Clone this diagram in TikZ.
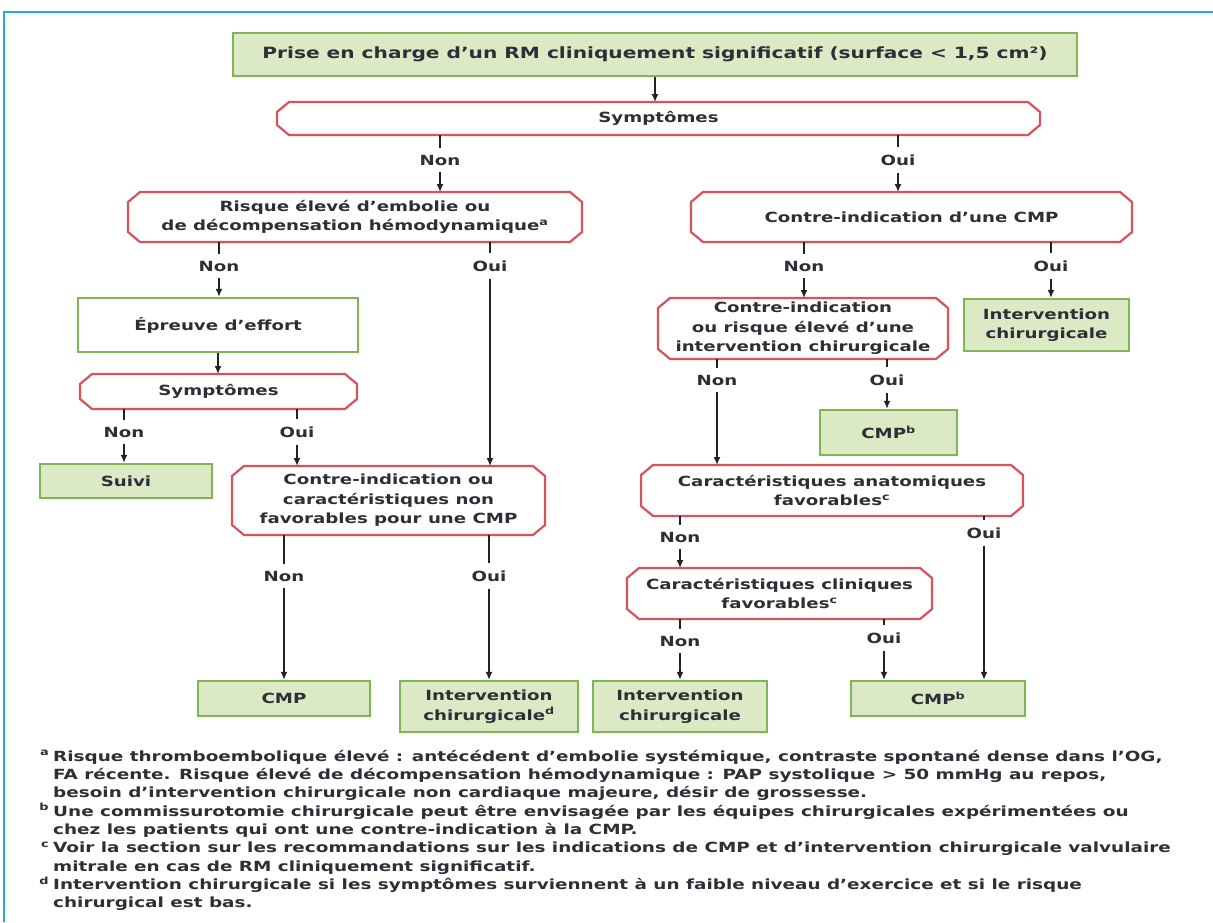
\documentclass[tikz,border=0pt]{standalone}
\usepackage{fontspec}
\usetikzlibrary{arrows.meta}
\newfontfamily\dvf{DejaVu Sans}[FakeStretch=1.3]
\newfontfamily\dvfn{DejaVu Sans}[FakeStretch=1.315]
\definecolor{gfill}{HTML}{DCE9C5}
\definecolor{gborder}{HTML}{7DB653}
\definecolor{rborder}{HTML}{D9515A}
\definecolor{framec}{HTML}{2AA7E0}
\definecolor{txt}{HTML}{2E2E38}
\definecolor{linec}{HTML}{222222}
\tikzset{
  base/.style={font=\dvf\bfseries\fontsize{14}{19.5}\selectfont, text=txt, align=center, inner sep=0pt},
  gbox/.style={base, rectangle, draw=gborder, fill=gfill, line width=2.2pt},
  wbox/.style={base, rectangle, draw=gborder, fill=white, line width=2.2pt},
  obox/.style={base, rectangle, outer sep=0pt},
  oct/.style={draw=rborder, line width=2.2pt, line join=miter},
  lbl/.style={base, inner ysep=7pt},
  conn/.style={line width=1.8pt, draw=linec},
  arr/.style={conn, -{Latex[length=8pt,width=7pt]}},
  fn/.style={font=\dvfn\bfseries\fontsize{14}{18}\selectfont, text=txt, inner sep=0pt, anchor=base west},
}
\begin{document}
\begin{tikzpicture}[x=1pt,y=-1pt]
\useasboundingbox (0,0) rectangle (1213,922);
\draw[framec, line width=2pt] (4,922) -- (4,12) -- (1213,12);

% boxes
\node[gbox, minimum width=844pt, minimum height=43pt, font=\dvf\bfseries\fontsize{15.5}{19.5}\selectfont] (top) at (655,54.5) {Prise en charge d’un RM cliniquement significatif (surface < 1,5 cm²)};
\node[obox, minimum width=763pt, minimum height=33pt] (sym1) at (658.5,118.5) {Symptômes};
\node[obox, minimum width=454pt, minimum height=50pt] (risk) at (355,217) {Risque élevé d’embolie ou\\de décompensation hémodynamique\textsuperscript{a}};
\node[obox, minimum width=441pt, minimum height=50pt] (cicmp) at (911.5,217) {Contre-indication d’une CMP};
\node[wbox, minimum width=280pt, minimum height=54pt] (epr) at (218,325) {Épreuve d’effort};
\node[obox, minimum width=277pt, minimum height=35pt] (sym2) at (218.5,391.5) {Symptômes};
\node[gbox, minimum width=172pt, minimum height=34pt] (suivi) at (126,481) {Suivi};
\node[obox, minimum width=313pt, minimum height=69pt] (ciou) at (388.5,500.5) {Contre-indication ou\\caractéristiques non\\favorables pour une CMP};
\node[gbox, minimum width=172pt, minimum height=35pt] (cmpa) at (284,698.5) {CMP};
\node[gbox, minimum width=178pt, minimum height=51pt] (intd) at (489,706.5) {Intervention\\chirurgicale\textsuperscript{d}};
\node[obox, minimum width=290pt, minimum height=61pt] (cirisk) at (803,328.5) {Contre-indication\\ou risque élevé d’une\\intervention chirurgicale};
\node[gbox, minimum width=165pt, minimum height=52pt] (inttop) at (1046.5,325) {Intervention\\chirurgicale};
\node[gbox, minimum width=137pt, minimum height=45pt] (cmpb) at (888.5,432.5) {CMP\textsuperscript{b}};
\node[obox, minimum width=382pt, minimum height=51pt] (anat) at (832,490.5) {Caractéristiques anatomiques\\favorables\textsuperscript{c}};
\node[obox, minimum width=305pt, minimum height=51pt] (clin) at (779.5,593.5) {Caractéristiques cliniques\\favorables\textsuperscript{c}};
\node[gbox, minimum width=174pt, minimum height=51pt] (intr) at (680,706.5) {Intervention\\chirurgicale};
\node[gbox, minimum width=174pt, minimum height=35pt] (cmpc) at (938,698.5) {CMP\textsuperscript{b}};

% octagon outlines of the decision nodes
\foreach \b in {sym1,risk,cicmp,sym2,ciou,cirisk,anat,clin}{
  \draw[oct] ([xshift=12pt]\b.north west) -- ([xshift=-12pt]\b.north east) -- ([yshift=-10pt]\b.north east) -- ([yshift=10pt]\b.south east) -- ([xshift=-12pt]\b.south east) -- ([xshift=12pt]\b.south west) -- ([yshift=10pt]\b.south west) -- ([yshift=-10pt]\b.north west) -- cycle;
}

% labels
\node[lbl] (n1) at (440,160) {Non};
\node[lbl] (o1) at (898,160) {Oui};
\node[lbl] (n2) at (219,266) {Non};
\node[lbl] (o2) at (490,266) {Oui};
\node[lbl] (n3) at (124,432) {Non};
\node[lbl] (o3) at (297,432) {Oui};
\node[lbl] (n4) at (284,576) {Non};
\node[lbl] (o4) at (489,576) {Oui};
\node[lbl] (n5) at (804,266) {Non};
\node[lbl] (o5) at (1051,266) {Oui};
\node[lbl] (n6) at (717,380) {Non};
\node[lbl] (o6) at (887,380) {Oui};
\node[lbl] (n7) at (680,537) {Non};
\node[lbl] (o7) at (984,533) {Oui};
\node[lbl] (n8) at (680,641) {Non};
\node[lbl] (o8) at (884,638) {Oui};

% connectors
\draw[arr] (top.south) -- (top.south |- sym1.north);
\draw[arr] (epr.south) -- (epr.south |- sym2.north);
\foreach \l/\s/\t in {n1/sym1/risk, o1/sym1/cicmp, n2/risk/epr, o2/risk/ciou, n3/sym2/suivi, o3/sym2/ciou, n4/ciou/cmpa, o4/ciou/intd, n5/cicmp/cirisk, o5/cicmp/inttop, n6/cirisk/anat, o6/cirisk/cmpb, n7/anat/clin, o7/anat/cmpc, n8/clin/intr, o8/clin/cmpc}{
  \draw[conn] (\s.south -| \l) -- (\l);
  \draw[arr] (\l) -- (\t.north -| \l);
}

% footnotes
\foreach \m/\t [count=\i] in {a/{Risque thromboembolique élevé : antécédent d’embolie systémique, contraste spontané dense dans l’OG,},
 /{FA récente. Risque élevé de décompensation hémodynamique : PAP systolique > 50 mmHg au repos,},
 /{besoin d’intervention chirurgicale non cardiaque majeure, désir de grossesse.},
 b/{Une commissurotomie chirurgicale peut être envisagée par les équipes chirurgicales expérimentées ou},
 /{chez les patients qui ont une contre-indication à la CMP.},
 c/{Voir la section sur les recommandations sur les indications de CMP et d’intervention chirurgicale valvulaire},
 /{mitrale en cas de RM cliniquement significatif.},
 d/{Intervention chirurgicale si les symptômes surviennent à un faible niveau d’exercice et si le risque},
 /{chirurgical est bas.}}{
  \node[fn] (fn\i) at (53,{761+18.35*(\i-1)}) {\llap{\textsuperscript{\m}\hspace{4pt}}\t};
}
\end{tikzpicture}
\end{document}
